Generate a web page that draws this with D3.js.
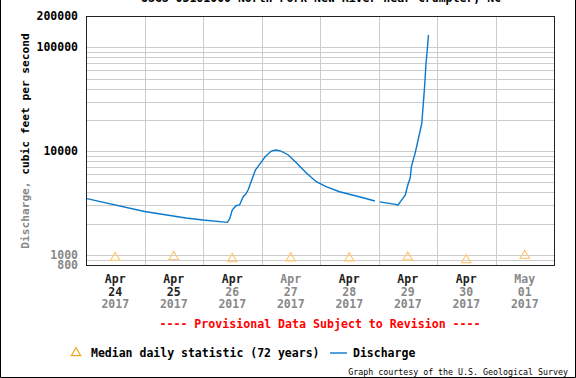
<!DOCTYPE html>
<html>
<head>
<meta charset="utf-8">
<script src="https://cdn.jsdelivr.net/npm/d3@7"></script>
<style>
  body { margin: 0; background: #fff; }
  svg text { font-family: "DejaVu Sans Mono", "Liberation Mono", monospace; }
</style>
</head>
<body>
<div id="chart"></div>
<script>
// discharge readings (cfs), null = gap in record
var dischargeTimes = [
  "2017-04-24 00:00", "2017-04-24 04:00", "2017-04-25 00:00", "2017-04-25 17:00",
  "2017-04-26 00:00", "2017-04-26 10:00", "2017-04-26 11:00", "2017-04-26 12:00",
  "2017-04-26 13:30", "2017-04-26 15:00", "2017-04-26 16:30", "2017-04-26 17:30",
  "2017-04-26 18:30", "2017-04-26 20:00", "2017-04-26 21:30", "2017-04-26 23:30",
  "2017-04-27 01:30", "2017-04-27 04:00", "2017-04-27 06:00", "2017-04-27 08:00",
  "2017-04-27 11:00", "2017-04-27 14:30", "2017-04-27 18:30", "2017-04-27 22:30",
  "2017-04-28 02:30", "2017-04-28 08:00", "2017-04-28 16:30", "2017-04-28 22:30",
  "2017-04-28 23:30",
  "2017-04-29 00:30", "2017-04-29 07:00", "2017-04-29 08:00", "2017-04-29 09:00",
  "2017-04-29 10:00", "2017-04-29 11:00", "2017-04-29 11:30", "2017-04-29 12:15",
  "2017-04-29 13:00", "2017-04-29 13:30", "2017-04-29 15:00", "2017-04-29 16:15",
  "2017-04-29 17:45", "2017-04-29 18:30", "2017-04-29 19:00", "2017-04-29 19:30",
  "2017-04-29 20:00", "2017-04-29 20:30"
];
var dischargeValues = [
  3510, 3330, 2620, 2270,
  2170, 2060, 2250, 2700,
  2980, 3030, 3640, 3840,
  4220, 5270, 6580, 7630,
  8830, 10000, 10250, 10000,
  9170, 7630, 6110, 5070,
  4540, 4060, 3610, 3310,
  null,
  3240, 3070, 3020, 3260,
  3510, 3780, 4220, 4900,
  5510, 7080, 9520, 12790,
  18520, 31000, 44950, 70060,
  94100, 131300
];

// median daily statistic (72 years), plotted at noon
var medianDates = ["2017-04-24", "2017-04-25", "2017-04-26", "2017-04-27",
                   "2017-04-28", "2017-04-29", "2017-04-30", "2017-05-01"];
var medianValues = [940, 960, 915, 930, 930, 950, 895, 985];

var yTickValues = [800, 1000, 10000, 100000, 200000];
var titleText = "USGS 03161000 North Fork New River near Crumpler, NC";

var W = 576, H = 378;
var margin = { top: 16, right: 22, bottom: 113, left: 86 },
    w = W - margin.left - margin.right,
    h = H - margin.top - margin.bottom;

var parseTime = d3.timeParse("%Y-%m-%d %H:%M");
var parseDay = d3.timeParse("%Y-%m-%d");

var svg = d3.select("#chart")
            .append("svg")
            .attr("width", W)
            .attr("height", H);

// outer frame
svg.append("path")
   .attr("d", "M0.5,0 V" + (H - 0.5) + " H" + (W - 0.5) + " V0")
   .attr("fill", "none")
   .attr("stroke", "#000");

var g = svg.append("g")
           .attr("transform", "translate(" + margin.left + "," + margin.top + ")");

var x = d3.scaleTime()
          .domain([parseDay("2017-04-24"), parseDay("2017-05-02")])
          .range([0, w]);

var y = d3.scaleLog()
          .domain([800, 200000])
          .range([h, 0]);

// grid
g.selectAll("line.hgrid")
 .data(y.ticks())
 .enter()
 .append("line")
 .attr("class", "hgrid")
 .attr("x1", 0).attr("x2", w)
 .attr("y1", function(d) { return Math.round(y(d)) + 0.5; })
 .attr("y2", function(d) { return Math.round(y(d)) + 0.5; })
 .attr("stroke", "#cccccc");

g.selectAll("line.vgrid")
 .data(x.ticks(d3.timeDay))
 .enter()
 .append("line")
 .attr("class", "vgrid")
 .attr("x1", function(d) { return Math.round(x(d)) + 0.5; })
 .attr("x2", function(d) { return Math.round(x(d)) + 0.5; })
 .attr("y1", 0).attr("y2", h)
 .attr("stroke", "#cccccc");

// median triangles
var tri = d3.symbol().type(d3.symbolTriangle).size(38);
g.selectAll("path.median")
 .data(medianValues)
 .enter()
 .append("path")
 .attr("class", "median")
 .attr("d", tri)
 .attr("transform", function(d, i) {
     var t = d3.timeHour.offset(parseDay(medianDates[i]), 12);
     return "translate(" + x(t) + "," + y(d) + ")";
 })
 .attr("fill", "none")
 .attr("stroke", "#ffc878")
 .attr("stroke-width", 1.2);

// discharge line
var series = dischargeValues.map(function(v, i) {
    return { t: parseTime(dischargeTimes[i]), v: v };
});
var line = d3.line()
             .defined(function(d) { return d.v != null; })
             .x(function(d) { return x(d.t); })
             .y(function(d) { return y(d.v); });

g.append("path")
 .datum(series)
 .attr("d", line)
 .attr("fill", "none")
 .attr("stroke", "#0a78cc")
 .attr("stroke-width", 1.4);

// plot border
g.append("rect")
 .attr("x", 0.5).attr("y", 0.5)
 .attr("width", w).attr("height", h)
 .attr("fill", "none")
 .attr("stroke", "#222");

// y tick labels
g.selectAll("text.ytick")
 .data(yTickValues)
 .enter()
 .append("text")
 .attr("class", "ytick")
 .attr("x", -8)
 .attr("y", function(d) { return y(d); })
 .attr("dy", "0.35em")
 .attr("text-anchor", "end")
 .style("font-size", "11.5px")
 .style("font-weight", "bold")
 .attr("fill", function(d) { return d < 5000 ? "#888" : "#000"; })
 .text(function(d) { return d; });

// y axis title
var yt = svg.append("text")
            .attr("transform", "translate(29,141) rotate(-90)")
            .attr("text-anchor", "middle")
            .style("font-size", "11.2px")
            .style("font-weight", "bold");
yt.append("tspan").attr("fill", "#888").text("Discharge,");
yt.append("tspan").attr("fill", "#000").text(" cubic feet per second");

// x labels at noon of each day
var fmtMonth = d3.timeFormat("%b"), fmtDay = d3.timeFormat("%d"), fmtYear = d3.timeFormat("%Y");
var xl = g.selectAll("g.xlab")
          .data(medianDates)
          .enter()
          .append("g")
          .attr("class", "xlab")
          .attr("transform", function(d) {
              return "translate(" + x(d3.timeHour.offset(parseDay(d), 12)) + "," + h + ")";
          });
xl.append("text").attr("y", 18)
  .attr("fill", function(d, i) { return (i == 3 || i == 7) ? "#888" : "#222"; })
  .text(function(d) { return fmtMonth(parseDay(d)); });
xl.append("text").attr("y", 30.5)
  .attr("fill", function(d, i) { return i < 2 ? "#222" : "#888"; })
  .text(function(d) { return fmtDay(parseDay(d)); });
xl.append("text").attr("y", 43)
  .attr("fill", "#888")
  .text(function(d) { return fmtYear(parseDay(d)); });
xl.selectAll("text")
  .attr("text-anchor", "middle")
  .style("font-size", "11.5px")
  .style("font-weight", "bold");

// provisional note
g.append("text")
 .attr("x", w / 2).attr("y", h + 63)
 .attr("text-anchor", "middle")
 .attr("fill", "#ff0000")
 .style("font-size", "11.6px")
 .style("font-weight", "bold")
 .text("---- Provisional Data Subject to Revision ----");

// title (cut at top edge)
svg.append("text")
   .attr("x", 321).attr("y", 2)
   .attr("text-anchor", "middle")
   .style("font-size", "11.5px")
   .style("font-weight", "bold")
   .text(titleText);

// legend
var lg = svg.append("g").attr("transform", "translate(0,353)");
lg.append("path")
  .attr("d", tri)
  .attr("transform", "translate(76,0)")
  .attr("fill", "none")
  .attr("stroke", "#f5a623")
  .attr("stroke-width", 1.2);
lg.append("text").attr("x", 91).attr("dy", "0.35em")
  .style("font-size", "11.5px").style("font-weight", "bold")
  .text("Median daily statistic (72 years)");
lg.append("line")
  .attr("x1", 330).attr("x2", 347)
  .attr("stroke", "#0a78cc").attr("stroke-width", 1.4);
lg.append("text").attr("x", 353).attr("dy", "0.35em")
  .style("font-size", "11.5px").style("font-weight", "bold")
  .text("Discharge");

svg.append("text")
   .attr("x", 568).attr("y", 375)
   .attr("text-anchor", "end")
   .style("font-size", "8.3px")
   .text("Graph courtesy of the U.S. Geological Survey");
</script>
</body>
</html>
